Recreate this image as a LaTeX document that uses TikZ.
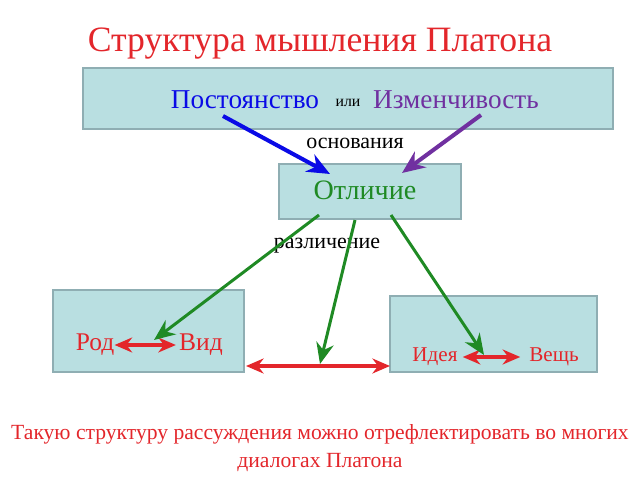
\documentclass[tikz,border=0pt]{standalone}
\usepackage{fontspec}
\setmainfont{Liberation Serif}
\usetikzlibrary{arrows.meta}
\definecolor{boxfill}{HTML}{B9DFE1}
\definecolor{boxline}{HTML}{8FAEB3}
\definecolor{pred}{HTML}{E3262B}
\definecolor{pgreen}{HTML}{1F8A24}
\definecolor{pblue}{HTML}{0A0AE6}
\definecolor{ppurple}{HTML}{7030A0}
\tikzset{
  box/.style={draw=boxline, fill=boxfill, line width=0.8pt},
  link/.style={-{Stealth[length=13pt,width=11pt]}, line width=2.3pt},
  glink/.style={-{Stealth[length=12pt,width=10pt]}, line width=1.7pt, pgreen},
  pair/.style={{Stealth[length=10pt,width=8.5pt]}-{Stealth[length=10pt,width=8.5pt]}, line width=1.8pt, pred},
  sz/.style={font=\fontsize{#1}{#1}\selectfont, inner sep=0pt}
}
\begin{document}
\begin{tikzpicture}[x=0.02cm, y=-0.02cm]
  \useasboundingbox (0, 0) rectangle (640, 480);
  \node[sz=20.3, text=pred] (title) at (320, 44) {Структура мышления Платона};
  % boxes
  \draw[box] (83, 68) rectangle (613, 129);
  \draw[box] (279, 164) rectangle (461, 219);
  \draw[box] (53, 290) rectangle (244, 372);
  \draw[box] (390, 296) rectangle (597, 372);
  % texts
  \node[sz=15.5, text=pblue] (post) at (245, 100) {Постоянство};
  \node[sz=9] (ili) at (348, 103) {или};
  \node[sz=15.5, text=ppurple] (izm) at (456, 100) {Изменчивость};
  \node[sz=12.5] (osn) at (355, 143) {основания};
  \node[sz=16, text=pgreen] (otl) at (365, 190) {Отличие};
  \node[sz=12.5] (razl) at (327, 246) {различение};
  \node[sz=14.5, text=pred] (rod) at (95, 345) {Род};
  \node[sz=14.5, text=pred] (vid) at (201, 345) {Вид};
  \node[sz=12, text=pred] (ideya) at (435, 357) {Идея};
  \node[sz=12, text=pred] (vesch) at (554, 357) {Вещь};
  \node[sz=12.3, text=pred, align=center] (note) at (320, 448)
    {Такую структуру рассуждения можно отрефлектировать во многих\\[3.5pt]диалогах Платона};
  % connectors
  \coordinate (pa) at (223, 116);
  \coordinate (pb) at (330, 174);
  \coordinate (ia) at (481, 115);
  \coordinate (ib) at (402, 173);
  \coordinate (g1a) at (319, 215);
  \coordinate (g1b) at (154, 340);
  \coordinate (g2a) at (355, 220);
  \coordinate (g2b) at (320, 364);
  \coordinate (g3a) at (391, 215);
  \coordinate (g3b) at (484, 355);
  \coordinate (la) at (246, 366);
  \coordinate (lb) at (390, 366);
  \draw[link, pblue] (pa) -- (pb);
  \draw[link, ppurple] (ia) -- (ib);
  \draw[pair, shorten >=1.7pt] (rod) -- (vid);
  \draw[pair, shorten <=2.8pt, shorten >=5pt] (ideya) -- (vesch);
  \draw[pair] (la) -- (lb);
  \draw[glink] (g1a) -- (g1b);
  \draw[glink] (g2a) -- (g2b);
  \draw[glink] (g3a) -- (g3b);
\end{tikzpicture}
\end{document}
